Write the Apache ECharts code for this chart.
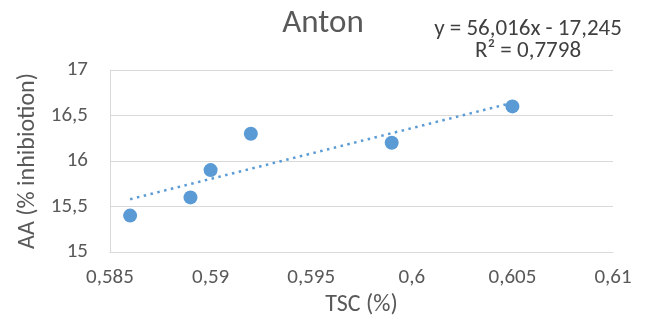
<!DOCTYPE html>
<html>
<head>
<meta charset="utf-8">
<script src="https://cdn.jsdelivr.net/npm/echarts@6/dist/echarts.min.js"></script>
<style>
  html, body { margin: 0; padding: 0; background: #fff; }
  #chart { width: 646px; height: 322px; }
</style>
</head>
<body>
<div id="chart"></div>
<script>
// 資料點 (TSC %, AA %)
const tscValues = [0.586, 0.589, 0.590, 0.592, 0.599, 0.605]
const aaValues = [15.4, 15.6, 15.9, 16.3, 16.2, 16.6]
// 趨勢線端點
const trendX = [0.586, 0.605]
const trendY = [15.58, 16.64]
const equationText = 'y = 56,016x - 17,245'
const r2Text = 'R² = 0,7798'

const fontFamily = 'Calibri, Carlito, "Open Sans", "Noto Sans", sans-serif'
const blue = '#5B9BD5'
const gray = '#595959'

const comma = (v) => String(+v.toFixed(3)).replace('.', ',')

const chart = echarts.init(document.getElementById('chart'))
const option = {
  animation: false,
  title: {
    text: 'Anton',
    left: 'center',
    top: 2,
    textStyle: { fontFamily, fontSize: 33, fontWeight: 'normal', color: gray },
  },
  graphic: [
    {
      type: 'text',
      x: 528,
      y: 18,
      style: {
        text: equationText + '\n' + r2Text,
        align: 'center',
        verticalAlign: 'top',
        fontFamily,
        fontSize: 23,
        lineHeight: 22,
        fill: '#404040',
      },
    },
  ],
  grid: { left: 110, right: 33, top: 70, bottom: 70 },
  xAxis: {
    type: 'value',
    min: 0.585,
    max: 0.61,
    interval: 0.005,
    name: 'TSC (%)',
    nameLocation: 'middle',
    nameGap: 39,
    nameTextStyle: { fontFamily, fontSize: 24, color: gray },
    axisLine: { show: true, lineStyle: { color: '#d9d9d9' } },
    axisTick: { show: false },
    splitLine: { show: false },
    axisLabel: { fontFamily, fontSize: 21, color: gray, margin: 15, formatter: comma },
  },
  yAxis: {
    type: 'value',
    min: 15,
    max: 17,
    interval: 0.5,
    name: 'AA (% inhibiotion)',
    nameLocation: 'middle',
    nameGap: 68,
    nameTextStyle: { fontFamily, fontSize: 24, color: gray },
    axisLine: { show: true, lineStyle: { color: '#d9d9d9' } },
    axisTick: { show: false },
    splitLine: { lineStyle: { color: '#d9d9d9' } },
    axisLabel: { fontFamily, fontSize: 21, color: gray, margin: 22, formatter: comma },
  },
  series: [
    {
      type: 'line',
      data: trendX.map((x, i) => [x, trendY[i]]),
      showSymbol: false,
      lineStyle: { color: blue, width: 2.5, type: [2.5, 4.5] },
      z: 1,
    },
    {
      type: 'scatter',
      data: tscValues.map((x, i) => [x, aaValues[i]]),
      symbolSize: 14,
      itemStyle: { color: blue, opacity: 1 },
      z: 2,
    },
  ],
}
chart.setOption(option)
</script>
</body>
</html>
